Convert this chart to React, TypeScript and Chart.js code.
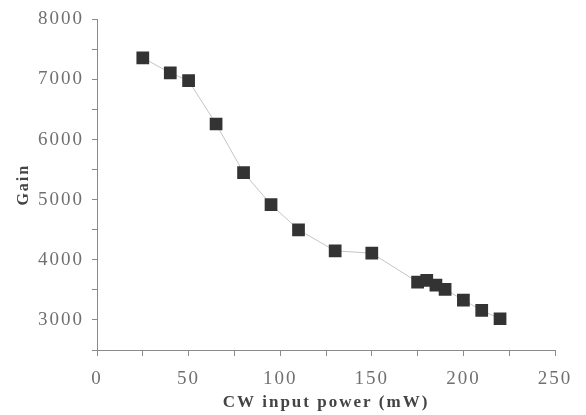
import React, { useEffect, useRef } from "react";
import { Chart, registerables } from "chart.js";

Chart.register(...registerables);

const powerMW = [25, 40, 50, 65, 80, 95, 110, 130, 150, 175, 180, 185, 190, 200, 210, 220];
const gainValues = [7360, 7110, 6980, 6260, 5450, 4920, 4500, 4150, 4110, 3630, 3660, 3580, 3510, 3330, 3160, 3020];
const yTickValues = [2500, 3000, 3500, 4000, 4500, 5000, 5500, 6000, 6500, 7000, 7500, 8000];
const yLabelValues = [3000, 4000, 5000, 6000, 7000, 8000];
const xTickValues = [0, 25, 50, 75, 100, 125, 150, 175, 200, 225, 250];
const xLabelValues = [0, 50, 100, 150, 200, 250];

const spacingPlugin = {
  id: "letterSpacing",
  beforeDraw(chart: any) {
    (chart.ctx as any).letterSpacing = "2px";
  },
};

export default function App() {
  const ref = useRef<HTMLCanvasElement | null>(null);
  useEffect(() => {
    document.body.style.margin = "0";
    const ctx = ref.current!.getContext("2d")!;
    const chart = new Chart(ctx, {
      type: "line",
      data: {
        datasets: [
          {
            data: powerMW.map((x, i) => ({ x, y: gainValues[i] })),
            borderColor: "#c4c4c4",
            borderWidth: 1,
            pointStyle: "rect",
            pointRadius: 9,
            pointBackgroundColor: "#333333",
            pointBorderColor: "#333333",
            pointBorderWidth: 0,
            tension: 0,
          },
        ],
      },
      options: {
        animation: false,
        responsive: false,
        events: [],
        layout: { padding: { top: 16, right: 31, left: 0, bottom: 0 } },
        plugins: { legend: { display: false }, tooltip: { enabled: false } },
        scales: {
          x: {
            type: "linear",
            min: 0,
            max: 250,
            afterBuildTicks: (s: any) => {
              s.ticks = xTickValues.map((v) => ({ value: v }));
            },
            afterFit: (s: any) => {
              s.height = 65;
            },
            border: { color: "#8a8a8a", width: 1 },
            grid: { drawOnChartArea: false, drawTicks: true, tickLength: 6, color: "#8a8a8a" },
            ticks: {
              autoSkip: false,
              maxRotation: 0,
              padding: 12,
              color: "#707070",
              font: { family: "'Liberation Serif', 'DejaVu Serif', serif", size: 19 },
              callback: (v: any) => (xLabelValues.includes(Number(v)) ? String(v) : ""),
            },
            title: {
              display: true,
              text: "CW input power (mW)",
              color: "#444444",
              font: { family: "'Liberation Serif', 'DejaVu Serif', serif", size: 17, weight: "bold" },
              padding: { top: 0, bottom: 2 },
            },
          },
          y: {
            type: "linear",
            min: 2500,
            max: 8000,
            afterBuildTicks: (s: any) => {
              s.ticks = yTickValues.map((v) => ({ value: v }));
            },
            afterFit: (s: any) => {
              s.width = 97;
            },
            border: { color: "#8a8a8a", width: 1 },
            grid: { drawOnChartArea: false, drawTicks: true, tickLength: 5, color: "#8a8a8a" },
            ticks: {
              autoSkip: false,
              padding: 8,
              color: "#707070",
              font: { family: "'Liberation Serif', 'DejaVu Serif', serif", size: 19 },
              callback: (v: any) => (yLabelValues.includes(Number(v)) ? String(v) : ""),
            },
            title: {
              display: true,
              text: "Gain",
              color: "#444444",
              font: { family: "'Liberation Serif', 'DejaVu Serif', serif", size: 16, weight: "bold" },
              padding: { top: 14, bottom: 0 },
            },
          },
        },
      },
      plugins: [spacingPlugin],
    } as any);
    return () => chart.destroy();
  }, []);
  return (
    <div style={{ position: "fixed", left: 0, top: 0, width: 586, height: 415, background: "#fff" }}>
      <canvas ref={ref} width={586} height={415} style={{ display: "block" }} />
    </div>
  );
}
